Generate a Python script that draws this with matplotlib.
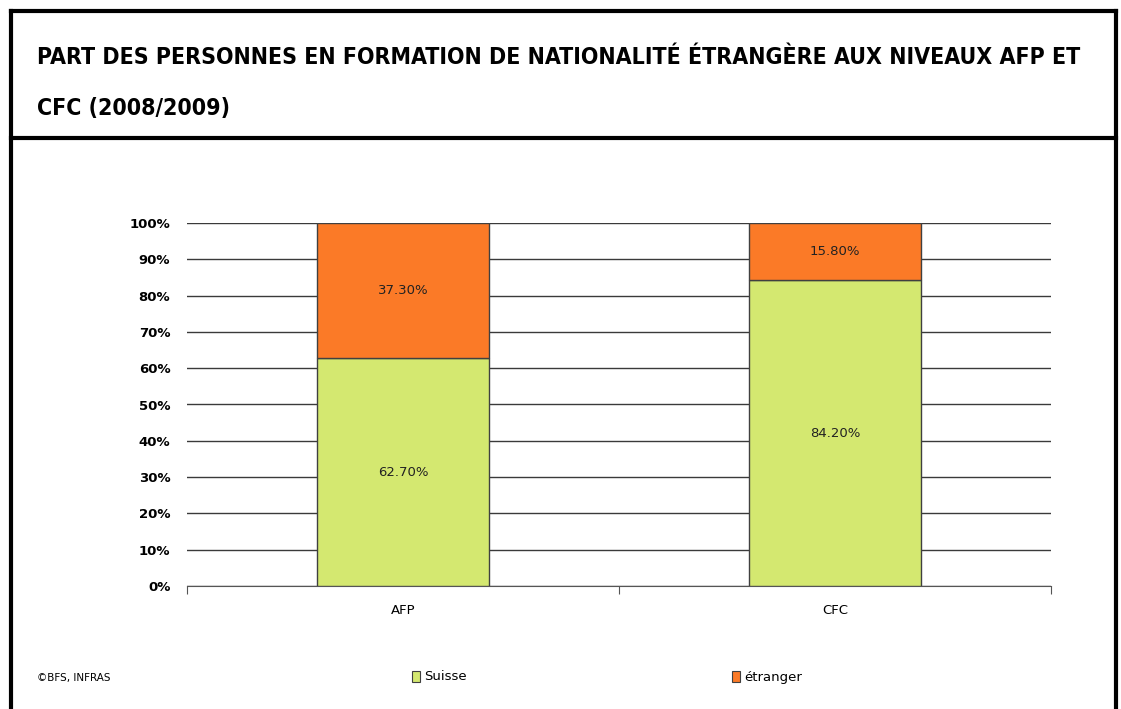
import matplotlib
matplotlib.use("Agg")
import matplotlib.pyplot as plt
from matplotlib.patches import Rectangle
from matplotlib.lines import Line2D

# data
categories = ["AFP", "CFC"]
suisse = [62.7, 84.2]
etranger = [37.3, 15.8]
series_names = ["Suisse", "étranger"]
colors = ["#d4e870", "#fb7a27"]
yticks = [0, 10, 20, 30, 40, 50, 60, 70, 80, 90, 100]

fig = plt.figure(figsize=(11.21, 7.09), dpi=100)

# outer frame and title separator
W, H = 1121, 709
def fx(px):
    return px / W
def fy(py):
    return 1 - py / H

frame_kw = dict(color="black", lw=3, transform=fig.transFigure, clip_on=False)
fig.add_artist(Line2D([fx(11), fx(1116)], [fy(11), fy(11)], **frame_kw))
fig.add_artist(Line2D([fx(11), fx(11)], [fy(11), fy(712)], **frame_kw))
fig.add_artist(Line2D([fx(1116), fx(1116)], [fy(11), fy(712)], **frame_kw))
fig.add_artist(Line2D([fx(11), fx(1116)], [fy(138), fy(138)], **frame_kw))

title_kw = dict(fontsize=16.6, fontweight="bold", family="DejaVu Sans",
                fontstretch="condensed", va="center", ha="left")
fig.text(fx(37), fy(58), "PART DES PERSONNES EN FORMATION DE NATIONALITÉ ÉTRANGÈRE AUX NIVEAUX AFP ET", **title_kw)
fig.text(fx(37), fy(108), "CFC (2008/2009)", **title_kw)

ax = fig.add_axes([fx(187), fy(586), fx(1051) - fx(187), fy(223) - fy(586)])
x = list(range(len(categories)))
ax.bar(x, suisse, width=0.4, color=colors[0], edgecolor="#404040", lw=1, zorder=3)
ax.bar(x, etranger, width=0.4, bottom=suisse, color=colors[1], edgecolor="#404040", lw=1, zorder=3)

for i in x:
    ax.text(i, suisse[i] / 2, "{:.2f}%".format(suisse[i]), ha="center", va="center", fontsize=9.5, color="#222222", zorder=4)
    ax.text(i, suisse[i] + etranger[i] / 2, "{:.2f}%".format(etranger[i]), ha="center", va="center", fontsize=9.5, color="#222222", zorder=4)

ax.set_xlim(-0.5, 1.5)
ax.set_ylim(0, 100)
ax.set_yticks(yticks)
ax.set_yticklabels(["{}%".format(t) for t in yticks], fontweight="bold", fontsize=9.5)
ax.tick_params(axis="y", length=0, pad=12)
ax.yaxis.grid(True, color="#3a3a3a", lw=1, zorder=0)

# category ticks on boundaries, labels at centers
ax.set_xticks([-0.5, 0.5, 1.5])
ax.set_xticklabels([])
ax.set_xticks(x, minor=True)
ax.set_xticklabels(categories, minor=True, fontsize=9.5)
ax.tick_params(axis="x", which="major", length=6, color="#555555", direction="out")
ax.tick_params(axis="x", which="minor", length=0, pad=13)

for s in ["top", "right", "left"]:
    ax.spines[s].set_visible(False)
ax.spines["bottom"].set_color("#555555")

# legend
for name, col, px in zip(series_names, colors, [412, 732]):
    fig.add_artist(Rectangle((fx(px), fy(682)), 8 / W, 11 / H, facecolor=col,
                             edgecolor="#404040", lw=0.8, transform=fig.transFigure))
    fig.text(fx(px + 12), fy(677), name, fontsize=9.5, va="center", ha="left")

fig.text(fx(37), fy(678), "©BFS, INFRAS", fontsize=7.5, va="center", ha="left")

fig.savefig("out.png", dpi=100)
